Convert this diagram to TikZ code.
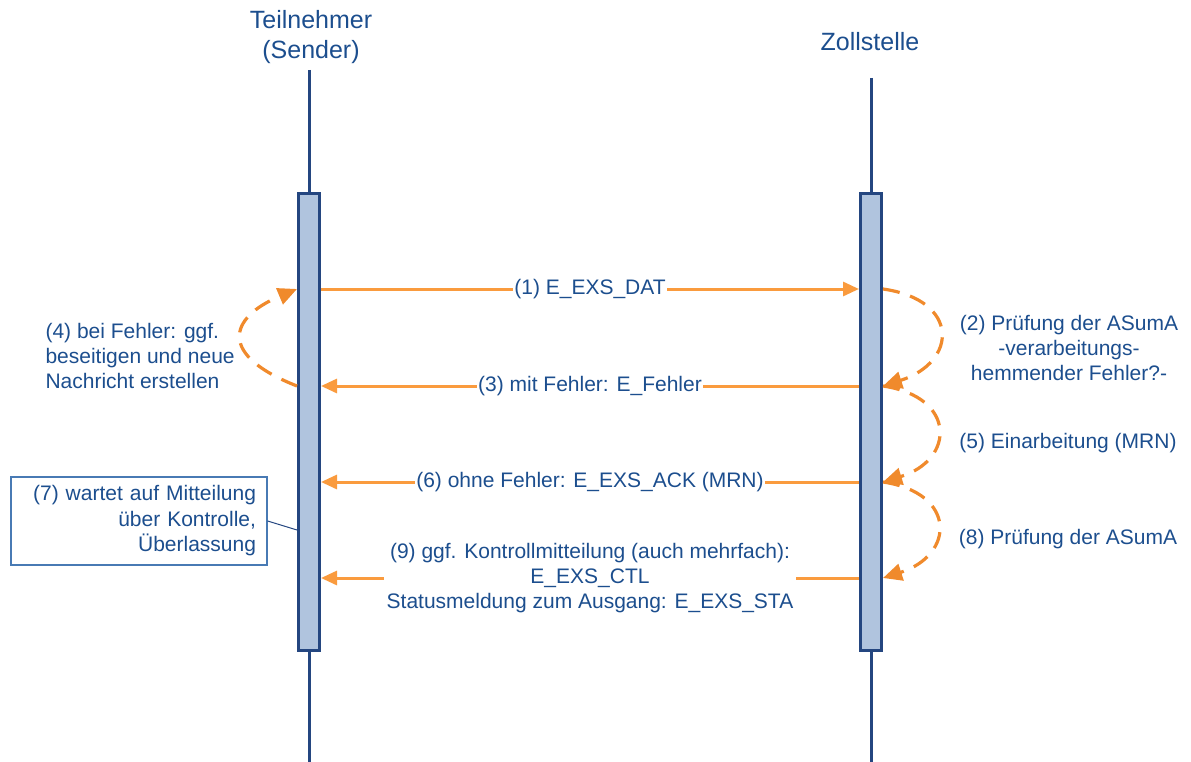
\documentclass[tikz,border=0pt]{standalone}
\usepackage{fontspec}
\setmainfont{Liberation Sans}
\usetikzlibrary{arrows.meta}
\definecolor{txtblue}{RGB}{28,78,142}
\definecolor{lineblue}{RGB}{36,70,128}
\definecolor{barfill}{RGB}{176,196,222}
\definecolor{msgorange}{RGB}{250,155,62}
\definecolor{loopor}{RGB}{240,138,44}
\definecolor{boxblue}{RGB}{72,122,180}
\tikzset{
  lifeline/.style={draw=lineblue,line width=3pt},
  actbar/.style={draw=lineblue,fill=barfill,line width=3pt,minimum width=21pt,minimum height=456pt,inner sep=0pt},
  title/.style={text=txtblue,font=\fontsize{25}{30}\selectfont,align=center},
  lbl/.style={text=txtblue,font=\fontsize{21}{25}\selectfont,align=center},
  msglbl/.style={lbl,fill=white,inner sep=1.5pt},
  msg/.style={draw=msgorange,line width=3pt,-{Triangle[length=16pt,width=14pt]}},
  selfloop/.style={draw=loopor,line width=3.2pt,dash pattern=on 17pt off 11pt,-{Triangle[length=19pt,width=17pt]}},
  notebox/.style={draw=boxblue,line width=1.3pt,fill=white,minimum width=256pt,minimum height=88pt,text width=234pt,inner xsep=11pt,align=right,text=txtblue,font=\fontsize{21}{25.5}\selectfont},
}
\begin{document}
\begin{tikzpicture}[x=1pt,y=-1pt]
\useasboundingbox (0,0) rectangle (1191,762);
% titles
\node[title] (tS) at (311,37) {Teilnehmer\\(Sender)};
\node[title] (tZ) at (870,42) {Zollstelle};
% lifelines
\coordinate (lStop) at (309,70);
\coordinate (lSbot) at (309,762);
\coordinate (lZtop) at (871,78);
\coordinate (lZbot) at (871,762);
\draw[lifeline] (lStop) -- (lSbot);
\draw[lifeline] (lZtop) -- (lZbot);
% activation bars
\node[actbar] (bS) at (309,422) {};
\node[actbar] (bZ) at (871,422) {};
% message levels
\coordinate (y1) at (0,289);
\coordinate (y3) at (0,386);
\coordinate (y6) at (0,482);
\coordinate (y9) at (0,578);
\coordinate (y7) at (0,530);
\coordinate (S1) at (bS.east |- y1);
\coordinate (Z1) at (bZ.west |- y1);
\coordinate (S3) at (bS.east |- y3);
\coordinate (Z3) at (bZ.west |- y3);
\coordinate (S6) at (bS.east |- y6);
\coordinate (Z6) at (bZ.west |- y6);
\coordinate (S9) at (bS.east |- y9);
\coordinate (Z9) at (bZ.west |- y9);
\coordinate (ZR1) at (bZ.east |- y1);
\coordinate (ZR3) at (bZ.east |- y3);
\coordinate (ZR6) at (bZ.east |- y6);
\coordinate (ZR9) at (bZ.east |- y9);
\coordinate (SL1) at (bS.west |- y1);
\coordinate (SL3) at (bS.west |- y3);
\coordinate (SL7) at (bS.west |- y7);
% messages
\draw[msg] (S1) -- (Z1);
\node[msglbl] (m1) at (590,289) {(1) E\_EXS\_DAT};
\draw[msg] (Z3) -- (S3);
\node[msglbl] (m3) at (590,386) {(3) mit Fehler: E\_Fehler};
\draw[msg] (Z6) -- (S6);
\node[msglbl] (m6) at (590,482) {(6) ohne Fehler: E\_EXS\_ACK (MRN)};
\draw[msg] (Z9) -- (S9);
\node[msglbl,inner xsep=3pt] (m9) at (590,578) {(9) ggf. Kontrollmitteilung (auch mehrfach):\\E\_EXS\_CTL\\Statusmeldung zum Ausgang: E\_EXS\_STA};
% self loops on Zollstelle
\draw[selfloop] (ZR1) .. controls (960,300) and (958,362) .. (ZR3);
\draw[selfloop] (ZR3) .. controls (957,397) and (955,460) .. (ZR6);
\draw[selfloop] (ZR6) .. controls (957,493) and (955,555) .. (ZR9);
\node[lbl] (l2) at (1069,348) {(2) Prüfung der ASumA\\-verarbeitungs-\\hemmender Fehler?-};
\node[lbl] (l5) at (1068,443) {(5) Einarbeitung (MRN)};
\node[lbl] (l8) at (1068,539) {(8) Prüfung der ASumA};
% loop on Teilnehmer
\draw[selfloop] (SL3) .. controls (218,355) and (228,318) .. (SL1);
\node[lbl,align=left,anchor=west] (l4) at (42,356) {(4) bei Fehler: ggf.\\beseitigen und neue\\Nachricht erstellen};
% note
\node[notebox] (n7) at (139,521) {(7) wartet auf Mitteilung\\über Kontrolle,\\Überlassung};
\draw[draw=lineblue,line width=1pt] (n7.east) -- (SL7);
\end{tikzpicture}
\end{document}
